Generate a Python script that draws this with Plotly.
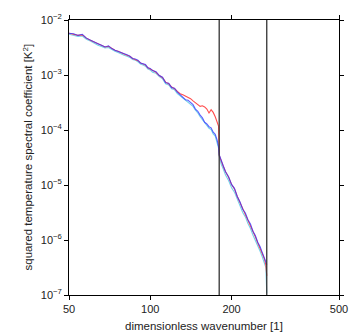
import numpy as np
import plotly.graph_objects as go

# wavenumber grid
wavenumber = [50, 52, 54, 56, 58, 60, 62, 64, 66, 68, 70, 72, 74, 76, 78, 80, 82, 84, 86, 88, 90, 92, 94, 96, 98, 100,
              102, 105, 108, 111, 114, 117, 120, 123, 126, 129, 132, 135, 138, 141, 144, 147, 150, 153, 156, 159, 162,
              165, 168, 171, 174, 177, 179, 180,
              183, 186, 190, 195, 200, 205, 210, 215, 220, 225, 230, 235, 240, 245, 250, 255, 260, 265, 268, 270]

# log10 of the squared temperature spectral coefficient
log10_blue = [-2.24, -2.25, -2.28, -2.26, -2.33, -2.36, -2.40, -2.43, -2.46, -2.49, -2.47, -2.52, -2.55, -2.57, -2.59, -2.62, -2.63, -2.66, -2.70, -2.71, -2.73, -2.78, -2.79, -2.81, -2.87, -2.88,
              -2.92, -2.94, -3.01, -3.04, -3.14, -3.15, -3.23, -3.24, -3.31, -3.36, -3.39, -3.45, -3.46, -3.51, -3.54, -3.62, -3.66, -3.73, -3.78, -3.86, -3.89,
              -3.94, -3.96, -4.04, -4.08, -4.19, -4.30, -4.45,
              -4.57, -4.64, -4.76, -4.85, -4.99, -5.06, -5.21, -5.31, -5.44, -5.51, -5.63, -5.71, -5.84, -5.92, -6.04, -6.12, -6.23, -6.32, -6.40, -6.45]

log10_cyan = [-2.26, -2.28, -2.30, -2.29, -2.35, -2.38, -2.42, -2.46, -2.48, -2.51, -2.50, -2.54, -2.57, -2.59, -2.62, -2.64, -2.66, -2.68, -2.72, -2.73, -2.76, -2.80, -2.82, -2.84, -2.89, -2.91,
              -2.95, -2.97, -3.03, -3.07, -3.16, -3.18, -3.25, -3.27, -3.34, -3.38, -3.42, -3.47, -3.49, -3.54, -3.57, -3.64, -3.69, -3.76, -3.81, -3.88, -3.92,
              -3.97, -3.99, -4.07, -4.11, -4.22, -4.33, -4.48,
              -4.62, -4.70, -4.82, -4.92, -5.05, -5.13, -5.27, -5.38, -5.50, -5.58, -5.70, -5.79, -5.91, -6.00, -6.11, -6.20, -6.31, -6.41, -6.50, -6.97]

log10_red = [-2.24, -2.26, -2.28, -2.27, -2.33, -2.37, -2.40, -2.44, -2.46, -2.49, -2.48, -2.52, -2.55, -2.57, -2.60, -2.62, -2.64, -2.66, -2.70, -2.72, -2.74, -2.78, -2.80, -2.82, -2.87, -2.89,
             -2.92, -2.95, -3.01, -3.05, -3.13, -3.16, -3.22, -3.25, -3.30, -3.34, -3.36, -3.38, -3.40, -3.43, -3.47, -3.50, -3.53, -3.57, -3.56, -3.58, -3.62,
             -3.69, -3.63, -3.68, -3.76, -3.86, -3.93, -4.46,
             -4.57, -4.65, -4.76, -4.86, -4.99, -5.07, -5.21, -5.32, -5.44, -5.52, -5.64, -5.72, -5.85, -5.94, -6.05, -6.14, -6.25, -6.35, -6.46, -6.65]

vlines = [180, 270]
x_ticks = [50, 100, 200, 500]
x_ticktext = ["50", "100", "200", "500"]
y_exponents = [-7, -6, -5, -4, -3, -2]

series = [
    ("cyan", log10_cyan, "#74d2ec", 1.0),
    ("red", log10_red, "#ff4d4d", 1.0),
    ("blue", log10_blue, "#3535ff", 0.78),
]

fig = go.Figure()
for name, vals, col, op in series:
    fig.add_trace(go.Scatter(
        x=wavenumber, y=np.power(10.0, np.array(vals)), mode="lines", name=name,
        line=dict(color=col, width=1.1), opacity=op,
        showlegend=False, hoverinfo="skip"))

for xv in vlines:
    fig.add_shape(type="line", xref="x", yref="paper", x0=xv, x1=xv, y0=0, y1=1,
                  line=dict(color="#333333", width=1.3))

font = dict(family="Liberation Sans, Arial, sans-serif", size=11, color="#222222")

fig.update_layout(
    width=360, height=335,
    margin=dict(l=69, r=13, t=16, b=40),
    paper_bgcolor="white", plot_bgcolor="white",
    font=font,
    showlegend=False,
)
fig.update_xaxes(
    type="log", range=[np.log10(50), np.log10(500)],
    tickvals=x_ticks, ticktext=x_ticktext,
    ticks="outside", ticklen=4, tickwidth=1, tickcolor="black",
    showline=True, linecolor="black", linewidth=1, mirror="ticks",
    showgrid=False, zeroline=False, tickfont=dict(size=11),
)
fig.update_yaxes(
    type="log", range=[-7, -2],
    tickvals=[10.0 ** e for e in y_exponents],
    ticktext=["10<sup>\u2212%d</sup>" % (-e) for e in y_exponents],
    ticks="outside", ticklen=4, tickwidth=1, tickcolor="black",
    showline=True, linecolor="black", linewidth=1, mirror="ticks",
    showgrid=False, zeroline=False, tickfont=dict(size=11),
)
fig.add_annotation(text="dimensionless wavenumber [1]", xref="paper", yref="paper",
                   x=0.5, y=0, yshift=-31, showarrow=False, font=dict(size=11.5),
                   xanchor="center", yanchor="middle")
fig.add_annotation(text="squared temperature spectral coefficient [K<sup>2</sup>]", xref="paper", yref="paper",
                   x=0, y=0.5, xshift=-42, textangle=-90, showarrow=False, font=dict(size=11.5),
                   xanchor="center", yanchor="middle")

fig.write_html("out.html", config={"displayModeBar": False},
               post_script="document.body.style.margin='0';document.body.style.overflow='hidden';")
